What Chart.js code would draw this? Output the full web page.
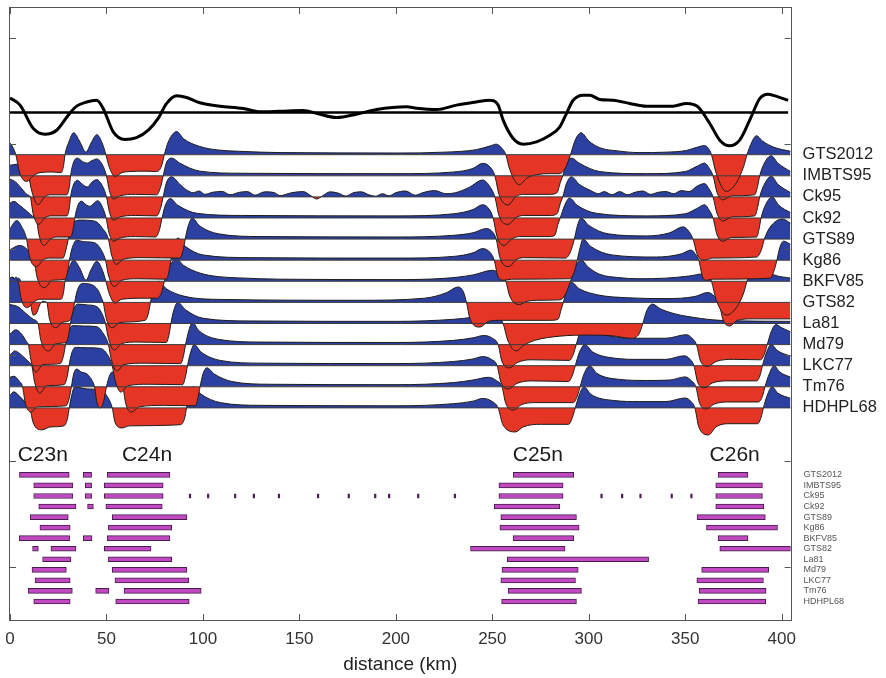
<!DOCTYPE html>
<html><head><meta charset="utf-8">
<script src="https://cdn.jsdelivr.net/npm/chart.js@4.4.1/dist/chart.umd.min.js"></script>
<style>html,body{margin:0;padding:0;background:#fff;}#wrap{width:886px;height:678px;position:relative;}</style>
</head><body><div id="wrap"><canvas id="c"></canvas></div>
<script>
// ---------- DATA ----------
const timescales = ['GTS2012','IMBTS95','Ck95','Ck92','GTS89','Kg86','BKFV85','GTS82','La81','Md79','LKC77','Tm76','HDHPL68'];
const xTicks = [0,50,100,150,200,250,300,350,400];
const yTicks = [-7.55,-2.53,2.49,7.51,12.53,17.55];
const chronNames = ['C23n','C24n','C25n','C26n'];
const chronKm = [17,71,273.6,375.6];

// observed profile (distance km, anomaly in trace units)
const observedProfile = [[0,0.69],[5.2,0.35],[12.1,-0.76],[18.1,-1.03],[24.2,-0.84],[30.2,-0.13],[34.5,0.3],[39.7,0.5],[44.9,0.58],[48.3,0.19],[53.5,-0.92],[59.6,-1.28],[65.6,-1.19],[71.7,-0.84],[76.8,-0.28],[81.2,0.43],[86.4,0.79],[91.5,0.71],[98.4,0.46],[108.8,0.3],[120.9,0.19],[129.5,0.03],[139.9,0.06],[152,0.1],[158.9,-0.04],[169.3,-0.24],[179.6,-0.08],[190,0.14],[205.5,0.27],[210.7,0.2],[221.1,0.14],[231.4,0.35],[241.8,0.5],[248.7,0.58],[253,0.35],[255.6,-0.36],[260.8,-1.23],[266,-1.5],[272.9,-1.39],[279.8,-1.08],[285,-0.68],[288.4,-0.05],[291.9,0.58],[297,0.82],[300.5,0.82],[305.7,0.62],[312.6,0.58],[321.2,0.43],[329.9,0.3],[343.7,0.3],[350.6,0.43],[356.6,0.27],[362.7,-0.52],[367.9,-1.31],[373,-1.58],[378.2,-1.31],[383.4,-0.36],[388.6,0.66],[392.9,0.87],[398.1,0.74],[403.3,0.58]];

// model anomalies per timescale (distance km, amplitude in trace units)
const trace_GTS2012 = [[0,0.55],[1.5,0.35],[3,0],[5,-0.85],[8.6,-1.27],[12,-1.0],[15.5,-0.85],[22,-0.82],[26.5,-0.85],[27.8,-0.5],[28.5,0],[30.5,0.6],[33,1.04],[36,0.65],[39.4,0.12],[42,0.55],[45,0.95],[48,0.5],[49.7,0],[51.5,-0.6],[54.4,-1.03],[58,-0.85],[62,-0.8],[70,-0.78],[76,-0.8],[78.5,-0.55],[80,0],[82,0.6],[86.4,1.1],[90,0.75],[98.4,0.39],[108,0.22],[119,0.16],[140,0.1],[200,0.08],[225,0.12],[241.8,0.24],[249,0.42],[252,0.5],[255,0.3],[257,0],[259,-0.7],[264,-1.42],[268,-1.1],[273,-0.95],[280,-0.9],[285,-0.9],[288,-0.6],[290.5,0],[293,0.7],[296,1.04],[300,0.65],[305.7,0.33],[315,0.18],[326,0.1],[340,0.12],[350.6,0.2],[356,0.35],[360,0.43],[362,0.3],[363.6,0],[366,-0.87],[371.3,-1.74],[376.5,-1.33],[380.3,-0.55],[382,0],[384.5,0.6],[386.9,0.9],[390,0.65],[396,0.35],[404.6,0.16]];
const trace_IMBTS95 = [[0,0.5],[4,0.55],[7,0.3],[9.5,0],[11.5,-0.8],[14.5,-1.37],[18,-1.0],[21,-0.9],[29.5,-0.9],[30.8,-0.5],[31.4,0],[32.8,0.6],[34.9,0.84],[37.5,0.68],[40,0.6],[42.5,0.72],[45,0.8],[48,0.5],[50,0],[51.5,-0.7],[53.5,-1.1],[57,-0.95],[65,-0.88],[76,-0.9],[78,-0.55],[79.4,0],[81,0.6],[83.8,0.84],[88,0.6],[98.4,0.22],[120,0.12],[200,0.1],[230,0.18],[240,0.35],[245,0.59],[249,0.4],[251.3,0],[253.5,-0.9],[258.2,-1.38],[262,-1.0],[266,-0.88],[280,-0.88],[283.5,-0.8],[285.3,-0.3],[286.5,0],[288.5,0.6],[291,0.84],[295,0.6],[305.7,0.2],[330,0.1],[350,0.2],[356,0.45],[360,0.6],[362.5,0.35],[364.4,0],[366.5,-0.8],[369.5,-1.14],[374,-0.95],[386,-0.9],[387.5,-0.5],[388.6,0],[391,0.6],[394.6,0.95],[398,0.6],[404.6,0.2]];
const trace_Ck95 = [[0,0.85],[3,0.7],[6,0.4],[9,0.1],[10.5,0],[12,-0.8],[14.8,-1.3],[18,-1.0],[21,-0.9],[29.5,-0.9],[30.8,-0.5],[31.4,0],[32.8,0.55],[34.9,0.79],[37.5,0.6],[40,0.47],[42.5,0.7],[44.9,0.82],[48,0.5],[50,0],[51.5,-0.7],[53.5,-1.1],[57,-0.95],[65,-0.88],[76,-0.9],[78,-0.55],[79.4,0],[81,0.65],[83.8,0.95],[88,0.6],[92,0.3],[95,0.2],[98,0.28],[101,0.12],[105,0.22],[110,0.26],[114,0.1],[119,0.22],[123,0.25],[127,0.08],[132,0.24],[137,0.2],[140,0.06],[146,0.2],[152,0.25],[156,0.05],[159,-0.1],[162,0.05],[166,0.24],[170,0.18],[174,0.04],[178,0.2],[182,0.24],[186,0.1],[189.5,0.03],[193,0.15],[196.5,0.05],[200,0.2],[205,0.28],[210,0.08],[214,0.2],[220,0.3],[226,0.15],[231,0.2],[238,0.45],[245,0.8],[249,0.45],[251.3,0],[253.5,-0.9],[258.2,-1.3],[262,-1.0],[266,-0.88],[280,-0.88],[283.5,-0.8],[285.3,-0.3],[286.5,0],[288.5,0.65],[291,0.95],[295,0.6],[301,0.3],[305,0.15],[308,0.25],[312,0.1],[316,0.25],[320,0.1],[324,0.22],[328,0.28],[332,0.12],[336,0.22],[340,0.25],[344,0.15],[348,0.3],[352,0.25],[356,0.5],[360,0.63],[362.5,0.35],[364.4,0],[366.5,-0.8],[369.5,-1.14],[374,-0.95],[386,-0.9],[387.5,-0.5],[388.6,0],[391,0.6],[394.6,0.98],[398,0.6],[404.6,0.2]];
const trace_Ck92 = [[0,0.7],[2,0.79],[5,0.6],[9,0.3],[12.5,0.05],[13.5,0],[15,-0.8],[17.5,-1.3],[21,-1.0],[24,-0.9],[31.5,-0.9],[32.8,-0.5],[33.6,0],[35,0.55],[37,0.8],[39.5,0.62],[41.5,0.55],[43.5,0.7],[45.5,0.82],[48,0.5],[49.8,0],[51.3,-0.7],[53.5,-1.1],[57,-0.95],[65,-0.88],[75.5,-0.9],[77.5,-0.55],[78.8,0],[80.5,0.6],[83,0.92],[87,0.6],[97,0.22],[120,0.12],[200,0.1],[230,0.2],[240,0.4],[245,0.63],[248.5,0.4],[250.4,0],[252.5,-0.9],[256,-1.3],[260,-1.0],[264,-0.88],[280,-0.88],[282.5,-0.8],[284,-0.3],[285.2,0],[287.5,0.6],[290,0.95],[294,0.6],[304,0.22],[330,0.1],[350,0.2],[356,0.45],[360,0.63],[362.5,0.35],[364.4,0],[366.5,-0.8],[369.5,-1.1],[374,-0.92],[387,-0.9],[388.3,-0.5],[389.3,0],[391.5,0.6],[395,1.0],[398.5,0.6],[404.6,0.25]];
const trace_GTS89 = [[0,0.5],[3.5,0.88],[6,0.6],[8.6,0],[10,-0.8],[13.8,-1.3],[17,-1.0],[20,-0.9],[27.5,-0.9],[29,-0.5],[30.2,0],[31.5,0.6],[33,0.8],[36,0.9],[44,0.85],[48,0.5],[51,0],[52.5,-0.7],[55,-1.2],[59,-0.95],[68,-0.88],[88,-0.9],[89.8,-0.5],[90.8,0],[92.3,0.6],[94.5,1.0],[98,0.65],[108,0.25],[130,0.12],[200,0.1],[230,0.18],[240,0.3],[247,0.5],[250,0.35],[252,0],[254,-0.9],[258.7,-1.3],[262,-1.0],[266,-0.88],[288,-0.9],[290.5,-0.6],[292.5,0],[294,0.6],[296,1.0],[300,0.65],[310,0.25],[330,0.15],[342,0.3],[348.9,0.58],[352,0.35],[354,0],[356.5,-0.8],[360,-1.0],[364,-0.9],[387,-0.85],[389.5,-0.5],[391,0],[393.5,0.5],[397,0.85],[400.5,0.95],[404.6,0.75]];
const trace_Kg86 = [[0,0.5],[5,0.7],[9,0.5],[12.5,0],[14,-0.8],[18,-1.3],[22,-0.95],[28.5,-0.9],[30,-0.5],[30.8,0],[32.3,0.6],[34.5,0.95],[38,0.88],[44,0.82],[47.5,0.45],[49.5,0],[51,-0.7],[54,-1.25],[58,-0.95],[66,-0.88],[81,-0.9],[82.5,-0.5],[83.4,0],[84.8,0.6],[87,1.05],[91,0.65],[100,0.25],[125,0.12],[200,0.1],[230,0.18],[240,0.35],[245,0.55],[249,0.35],[251,0],[253,-0.8],[256,-0.95],[260,-0.9],[290,-0.88],[292.5,-0.55],[294,0],[295.5,0.6],[297,1.0],[301,0.65],[312,0.25],[335,0.15],[348,0.3],[353,0.48],[355.5,0.25],[357,0],[359,-0.8],[361,-0.95],[364,-0.9],[394,-0.85],[396,-0.5],[397.5,0],[399,0.6],[401,0.9],[404.6,0.75]];
const trace_BKFV85 = [[0,0.15],[1,0.2],[2,0.12],[3.2,0.2],[4.2,0],[6,-0.9],[9,-1.25],[12,-1.0],[15.5,-0.85],[26.5,-0.85],[27.8,-0.5],[28.5,0],[30.5,0.6],[33,1.0],[36,0.65],[39.4,0.05],[42,0.55],[45,0.95],[48,0.5],[49.7,0],[51.5,-0.6],[54.4,-1.03],[58,-0.85],[70,-0.8],[76,-0.8],[78.5,-0.55],[80,0],[82,0.6],[86.4,1.05],[90,0.75],[98.4,0.39],[108,0.22],[119,0.16],[140,0.1],[200,0.08],[225,0.14],[240,0.3],[250,0.52],[254,0.35],[257,0],[259,-0.7],[264,-1.1],[268,-0.95],[273,-0.9],[285,-0.88],[288,-0.6],[290.5,0],[293,0.7],[296,1.0],[300,0.65],[305.7,0.33],[315,0.18],[326,0.12],[340,0.15],[352,0.25],[360,0.36],[362,0.25],[363.6,0],[366,-0.87],[371.3,-1.6],[376.5,-1.25],[380.3,-0.55],[382,0],[384.5,0.6],[386.9,0.9],[390,0.6],[396,0.3],[404.6,0.15]];
const trace_GTS82 = [[0,1.1],[1.5,1.2],[3,1.05],[4.5,1.15],[6.5,0.8],[9,0.3],[10.5,0],[12,-0.6],[13.5,-0.55],[15.5,-0.1],[17,0.05],[19,0],[20.5,-0.8],[24,-1.2],[27,-0.95],[31,-0.85],[32.5,-0.5],[33.5,0],[35,0.6],[37.5,0.9],[42,0.85],[45.5,0.6],[47.5,0.2],[48.3,0],[50,-0.8],[53,-1.2],[57,-0.95],[70,-0.85],[71.8,-0.5],[72.8,0],[74.3,0.6],[77,1.0],[81,0.65],[90,0.3],[110,0.14],[180,0.1],[215,0.2],[226,0.45],[232.3,0.73],[235,0.5],[236.6,0],[238.5,-0.8],[243.5,-1.17],[248,-0.9],[255,-0.85],[280,-0.85],[284,-0.8],[285.8,-0.3],[286.8,0],[288.5,0.6],[291,0.95],[295,0.65],[305,0.35],[320,0.22],[340,0.18],[355,0.28],[361.7,0.47],[365,0.3],[367.5,0],[369.5,-0.8],[373,-1.12],[377,-0.85],[385,-0.78],[404.6,-0.78]];
const trace_La81 = [[0,0.9],[4,0.8],[8,0.5],[12,0.2],[14.5,0],[16,-0.8],[20,-1.3],[24,-0.95],[29,-0.9],[30.5,-0.5],[31.3,0],[32.8,0.6],[35,0.92],[40,0.88],[45,0.8],[48,0.4],[49.5,0],[51,-0.7],[54,-1.25],[58,-0.95],[66,-0.88],[81,-0.9],[82.5,-0.5],[83.4,0],[84.8,0.6],[87,1.0],[91,0.65],[100,0.25],[125,0.12],[200,0.1],[230,0.2],[240,0.3],[248.7,0.46],[253,0.3],[255.6,0],[258,-0.8],[262.5,-1.3],[266,-1.05],[272,-0.8],[285,-0.6],[300,-0.55],[312,-0.58],[321.8,-0.7],[326,-0.5],[328,0],[330,0.6],[333,0.92],[337,0.7],[345,0.45],[355,0.28],[368,0.15],[404.6,0.1]];
const trace_Md79 = [[0,0.5],[3,0.7],[6,0.5],[8.5,0.15],[9.5,0],[11,-0.8],[13.5,-1.3],[17,-0.95],[26,-0.9],[27.8,-0.5],[28.8,0],[30.3,0.6],[32.5,0.9],[38,0.88],[45,0.85],[48.5,0.5],[51,0],[52.5,-0.7],[55.5,-1.25],[59,-0.95],[70,-0.88],[88.5,-0.9],[90,-0.5],[91,0],[92.5,0.6],[94.5,1.05],[98,0.65],[108,0.25],[130,0.12],[200,0.1],[230,0.2],[240,0.32],[245.6,0.43],[250,0.3],[253,0],[255,-0.8],[259,-1.1],[263,-0.85],[270,-0.72],[290,-0.75],[292,-0.45],[293.5,0],[295.5,0.6],[298.8,1.0],[303,0.65],[315,0.35],[326,0.3],[340,0.3],[350.6,0.47],[353.5,0.3],[355.8,0],[358,-0.8],[361.7,-1.03],[366,-0.8],[375,-0.7],[389,-0.72],[391,-0.45],[392.5,0],[394.5,0.6],[397,0.95],[400,0.8],[404.6,0.6]];
const trace_LKC77 = [[0,0.5],[2.5,0.7],[6,0.5],[10,0.15],[11.3,0],[12.8,-0.8],[15.5,-1.3],[19,-0.95],[28,-0.9],[29.7,-0.5],[30.6,0],[32,0.6],[34,0.87],[40,0.85],[47,0.82],[51,0.45],[53,0],[54.5,-0.7],[57.5,-1.25],[61,-0.95],[72,-0.88],[89.5,-0.9],[91,-0.5],[92,0],[93.5,0.6],[95.5,1.0],[99,0.65],[109,0.25],[130,0.12],[200,0.1],[230,0.2],[240,0.32],[245,0.43],[249.5,0.3],[252.5,0],[254.5,-0.8],[258.5,-1.1],[262.5,-0.85],[270,-0.72],[289.5,-0.75],[291.5,-0.45],[293,0],[295,0.6],[298,1.0],[302,0.65],[314,0.35],[326,0.3],[340,0.3],[349.5,0.47],[352.5,0.3],[354.5,0],[356.5,-0.8],[360,-1.05],[364,-0.82],[372,-0.72],[387,-0.72],[388.8,-0.45],[390,0],[392,0.6],[394.5,1.0],[398,0.7],[404.6,0.45]];
const trace_Tm76 = [[0,0.45],[2,0.5],[4.5,0.3],[6.5,0],[8,-0.8],[11,-1.2],[14,-0.95],[29,-0.9],[30.8,-0.5],[31.8,0],[33,0.6],[34.5,0.84],[37,0.7],[40,0.6],[42.5,0.3],[43.8,0],[45,-0.7],[46.6,-1.0],[48.5,-0.7],[50,0],[51.5,0.5],[53,0.7],[55,0.55],[57,0.25],[58.5,0],[60,-0.8],[63,-1.2],[67,-0.95],[80,-0.88],[96,-0.9],[97.5,-0.5],[98.5,0],[100,0.6],[102,0.9],[106,0.6],[115,0.25],[135,0.12],[200,0.1],[230,0.2],[240,0.32],[248,0.45],[252,0.3],[255,0],[257,-0.8],[261,-1.1],[265,-0.85],[272,-0.75],[292,-0.75],[294,-0.45],[295.5,0],[297.5,0.6],[300.5,1.0],[304,0.65],[316,0.35],[330,0.3],[342,0.32],[350,0.47],[353,0.3],[355.5,0],[357.5,-0.8],[361,-1.05],[365,-0.82],[372,-0.72],[388,-0.72],[390,-0.45],[391.3,0],[393.5,0.6],[396,1.0],[399,0.7],[404.6,0.45]];
const trace_HDHPL68 = [[0,0.6],[2,0.76],[5,0.55],[8.5,0.2],[10.3,0],[12,-0.7],[16.5,-1.04],[21,-0.9],[28,-0.85],[29.8,-0.5],[30.7,0],[32,0.6],[33.5,1.0],[40,0.9],[47,0.85],[51,0.45],[53,0],[54.5,-0.7],[58,-0.95],[62,-0.85],[88,-0.8],[90.5,-0.5],[91.5,0],[93,0.6],[95,1.0],[99,0.65],[109,0.25],[130,0.12],[200,0.1],[230,0.2],[240,0.32],[245,0.45],[250,0.3],[253,0],[255.5,-0.8],[262,-1.14],[266,-0.9],[275,-0.78],[289.5,-0.78],[291.5,-0.45],[293,0],[295,0.6],[297.5,1.0],[301,0.65],[313,0.35],[326,0.3],[340,0.3],[350,0.47],[353,0.3],[355,0],[357,-0.9],[362,-1.28],[366,-0.9],[372,-0.75],[387.5,-0.75],[389.3,-0.45],[390.5,0],[392.5,0.6],[395,1.0],[398,0.7],[404.6,0.45]];

// normal polarity blocks per timescale [start km, end km]
const bars_GTS2012 = [[4.9,30.7],[38,42.3],[50.4,82.9],[260.8,292.2],[367,382.5]];
const bars_IMBTS95 = [[12.3,32.6],[39,42.3],[48.9,79.4],[253.4,286.7],[365.8,390]];
const bars_Ck95 = [[12.3,32.6],[39,42.3],[48.9,79.4],[253.4,286.7],[365.8,390]];
const bars_Ck92 = [[14.9,34.2],[40.2,43.2],[49.7,78.9],[251,285],[365.8,390.7]];
const bars_GTS89 = [[10.5,30.2],[53,91.7],[254.4,293.6],[356.1,391.5]];
const bars_Kg86 = [[15.5,31.2],[51,83.8],[253.9,295],[361,397.8]];
const bars_BKFV85 = [[4.8,30.9],[38,42.5],[50.4,82.9],[260.8,292.2],[367,382.5]];
const bars_GTS82 = [[11.7,14.7],[21.2,34.2],[48.9,73.1],[238.7,287.7],[367.9,404.6]];
const bars_La81 = [[16.9,31.6],[51,83.8],[257.7,331]];
const bars_Md79 = [[11.4,29.2],[53,91.7],[255,294.5],[358.5,393.3]];
const bars_LKC77 = [[13,31.2],[54.4,92.7],[254.4,293.1],[356,390.5]];
const bars_Tm76 = [[9.5,32.3],[44.4,51.3],[59.1,99.1],[258.2,296.2],[357.2,391.9]];
const bars_HDHPL68 = [[12.3,31.2],[54.8,92.9],[254.8,293.6],[356.6,391.7]];
const ck95Dots = [93.3,102.7,116.7,126.4,139.4,159.7,175.6,189.3,196.5,211.6,230.6,306.6,317.3,326.8,343,353.2];

// ---------- BUILD ----------
const traces = [trace_GTS2012,trace_IMBTS95,trace_Ck95,trace_Ck92,trace_GTS89,trace_Kg86,trace_BKFV85,trace_GTS82,trace_La81,trace_Md79,trace_LKC77,trace_Tm76,trace_HDHPL68];
const bars = [bars_GTS2012,bars_IMBTS95,bars_Ck95,bars_Ck92,bars_GTS89,bars_Kg86,bars_BKFV85,bars_GTS82,bars_La81,bars_Md79,bars_LKC77,bars_Tm76,bars_HDHPL68];
const X_MIN = 0, X_MAX = 404.6, Y_MIN = -10.1, Y_MAX = 19.0;
const PROFILE_OFF = 14;
const traceOff = i => 12 - i;
const barRow = i => -3.175 - 0.5 * i;
const BLUE = 'rgb(44,64,162)', RED = 'rgb(229,53,36)';
const FONT = '"Liberation Sans", Arial, Helvetica, sans-serif';

const datasets = [];
datasets.push({type:'line', data: observedProfile.map(([x,a]) => ({x, y: PROFILE_OFF + a})), borderColor:'#000', borderWidth:3, pointRadius:0, fill:false, cubicInterpolationMode:'monotone', order:-3});
datasets.push({type:'line', data:[{x:0,y:PROFILE_OFF},{x:403.3,y:PROFILE_OFF}], borderColor:'#000', borderWidth:2.5, pointRadius:0, fill:false, order:-3});
timescales.forEach((name, i) => {
  const off = traceOff(i);
  datasets.push({type:'line', label:name, data: traces[i].map(([x,a]) => ({x, y: off + a})), borderColor:'#1e1e1e', borderWidth:1, pointRadius:0, cubicInterpolationMode:'monotone', fill:{target:{value:off}, above:BLUE, below:RED}, order:i});
  datasets.push({type:'line', data:[{x:X_MIN,y:off},{x:X_MAX,y:off}], borderColor:'#3c3c3c', borderWidth:1, pointRadius:0, fill:false, order:-1});
});
const barData = [];
bars.forEach((list, i) => list.forEach(([s,e]) => barData.push({x:[s,e], y: barRow(i)})));
datasets.push({type:'bar', indexAxis:'y', data: barData, backgroundColor:'rgb(192,72,192)', borderColor:'rgb(70,30,75)', borderWidth:1, borderSkipped:false, barThickness:5, grouped:false, order:-2});
datasets.push({type:'bar', indexAxis:'y', data: ck95Dots.map(d => ({x:[d-0.4,d+0.4], y: barRow(2)})), backgroundColor:'rgb(80,30,85)', borderWidth:0, barThickness:4, grouped:false, order:-2});

const overlay = {
  id:'overlay',
  afterDraw(chart){
    const {ctx, chartArea:a, scales:{x, y}} = chart;
    ctx.save();
    ctx.strokeStyle = '#555'; ctx.lineWidth = 1;
    ctx.strokeRect(Math.round(a.left)-0.5, Math.round(a.top)+0.5, Math.round(a.right - a.left)+1, Math.round(a.bottom - a.top)-1);
    ctx.beginPath();
    xTicks.forEach(v => { const px = Math.round(x.getPixelForValue(v)) + 0.5; ctx.moveTo(px, a.top); ctx.lineTo(px, a.top + 7); ctx.moveTo(px, a.bottom); ctx.lineTo(px, a.bottom - 7); });
    yTicks.forEach(v => { const py = Math.round(y.getPixelForValue(v)) + 0.5; ctx.moveTo(a.left, py); ctx.lineTo(a.left + 6, py); ctx.moveTo(a.right, py); ctx.lineTo(a.right - 6, py); });
    ctx.stroke();
    ctx.textAlign = 'left'; ctx.textBaseline = 'middle';
    ctx.fillStyle = '#222'; ctx.font = '16.5px ' + FONT;
    timescales.forEach((n, i) => ctx.fillText(n, a.right + 12, y.getPixelForValue(traceOff(i))));
    ctx.fillStyle = '#555'; ctx.font = '9px ' + FONT;
    timescales.forEach((n, i) => ctx.fillText(n, a.right + 13, y.getPixelForValue(barRow(i))));
    ctx.textAlign = 'center'; ctx.fillStyle = '#1a1a1a'; ctx.font = '21px ' + FONT;
    chronNames.forEach((n, i) => ctx.fillText(n, x.getPixelForValue(chronKm[i]), y.getPixelForValue(-2.23)));
    ctx.restore();
  }
};

new Chart(document.getElementById('c'), {
  type:'line',
  data:{datasets},
  options:{
    responsive:true, maintainAspectRatio:false, animation:false,
    layout:{padding:{left:10, right:886-790.6, top:7, bottom:0}},
    plugins:{legend:{display:false}, tooltip:{enabled:false}},
    scales:{
      x:{type:'linear', min:X_MIN, max:X_MAX, offset:false, grace:0,
         afterBuildTicks: s => { s.ticks = xTicks.map(v => ({value:v})); },
         afterFit: s => { s.height = 57; s.paddingLeft = 0; s.paddingRight = 0; },
         grid:{display:false, drawTicks:false, offset:false}, border:{display:false},
         ticks:{padding:8, color:'#333', font:{family:FONT, size:17}, maxRotation:0},
         title:{display:true, text:'distance (km)', color:'#222', font:{family:FONT, size:19}, padding:{top:0, bottom:2}}},
      y:{type:'linear', min:Y_MIN, max:Y_MAX, display:false, offset:false, grace:0, grid:{offset:false}}
    }
  },
  plugins:[overlay]
});
</script></body></html>
